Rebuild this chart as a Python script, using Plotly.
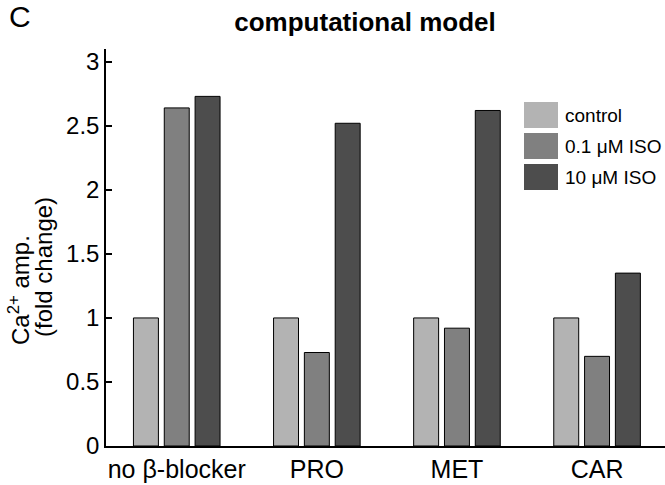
import plotly.graph_objects as go

# data
groups = ['no β-blocker', 'PRO', 'MET', 'CAR']
series = ['control', '0.1 μM ISO', '10 μM ISO']
control = [1.0, 1.0, 1.0, 1.0]
iso_low = [2.64, 0.73, 0.92, 0.70]
iso_high = [2.73, 2.52, 2.62, 1.35]
colors = ['#b3b3b3', '#808080', '#4d4d4d']

W, H = 665, 485
L, T, B = 106, 49, 39
PW, PH = W - L, H - T - B
FONT = 'Liberation Sans, Arial, sans-serif'


def px(x):
    return (x - L) / PW


def py(y):
    return 1 - (y - T) / PH


fig = go.Figure()
for name, vals, col in zip(series, [control, iso_low, iso_high], colors):
    fig.add_trace(go.Bar(
        x=groups, y=vals, name=name,
        marker=dict(color=col, line=dict(color='black', width=1)),
        showlegend=False,
    ))

# legend drawn by hand (matlab-style big swatches)
for i, (name, col) in enumerate(zip(series, colors)):
    y0 = 102 + i * 31
    fig.add_shape(type='rect', xref='paper', yref='paper',
                  x0=px(524), x1=px(558), y0=py(y0 + 26), y1=py(y0),
                  fillcolor=col, line=dict(width=0))
    fig.add_annotation(x=px(563), y=py(y0 + 13), xref='paper', yref='paper',
                       text=name, showarrow=False, xanchor='left', yanchor='middle',
                       font=dict(size=19, color='black', family=FONT))

fig.update_layout(
    width=W, height=H,
    margin=dict(l=L, r=0, t=T, b=B),
    plot_bgcolor='white', paper_bgcolor='white',
    barmode='group', bargap=0.34, bargroupgap=0.19,
    font=dict(family=FONT, size=24, color='black'),
    title=dict(text='<b>computational model</b>', x=365 / W, xanchor='center',
               y=1 - 22 / H, yanchor='middle', font=dict(size=26)),
    xaxis=dict(range=[-0.505, 3.485], showline=True, linecolor='black', linewidth=1.5,
               ticks='', showgrid=False, zeroline=False, tickfont=dict(size=25)),
    yaxis=dict(range=[0, 3.1], showline=True, linecolor='black', linewidth=1.5,
               ticks='inside', ticklen=6, tickwidth=1.5, tickcolor='black',
               tickvals=[0, 0.5, 1, 1.5, 2, 2.5, 3],
               ticktext=['0', '0.5', '1', '1.5', '2', '2.5', '3'],
               showgrid=False, zeroline=False, tickfont=dict(size=24)),
)

# panel letter
fig.add_annotation(x=px(7), y=py(17), xref='paper', yref='paper',
                   text='C', showarrow=False, xanchor='left', yanchor='middle',
                   font=dict(size=30, family=FONT))

# y-axis title, two lines rotated
fig.add_annotation(x=px(19), y=py(290), xref='paper', yref='paper',
                   text='Ca<sup>2+</sup> amp.', showarrow=False, textangle=-90,
                   xanchor='center', yanchor='middle', font=dict(size=24, family=FONT))
fig.add_annotation(x=px(43), y=py(267), xref='paper', yref='paper',
                   text='(fold change)', showarrow=False, textangle=-90,
                   xanchor='center', yanchor='middle', font=dict(size=24, family=FONT))

fig.write_html('out.html', config={'displayModeBar': False},
               post_script="document.body.style.margin='0';")
